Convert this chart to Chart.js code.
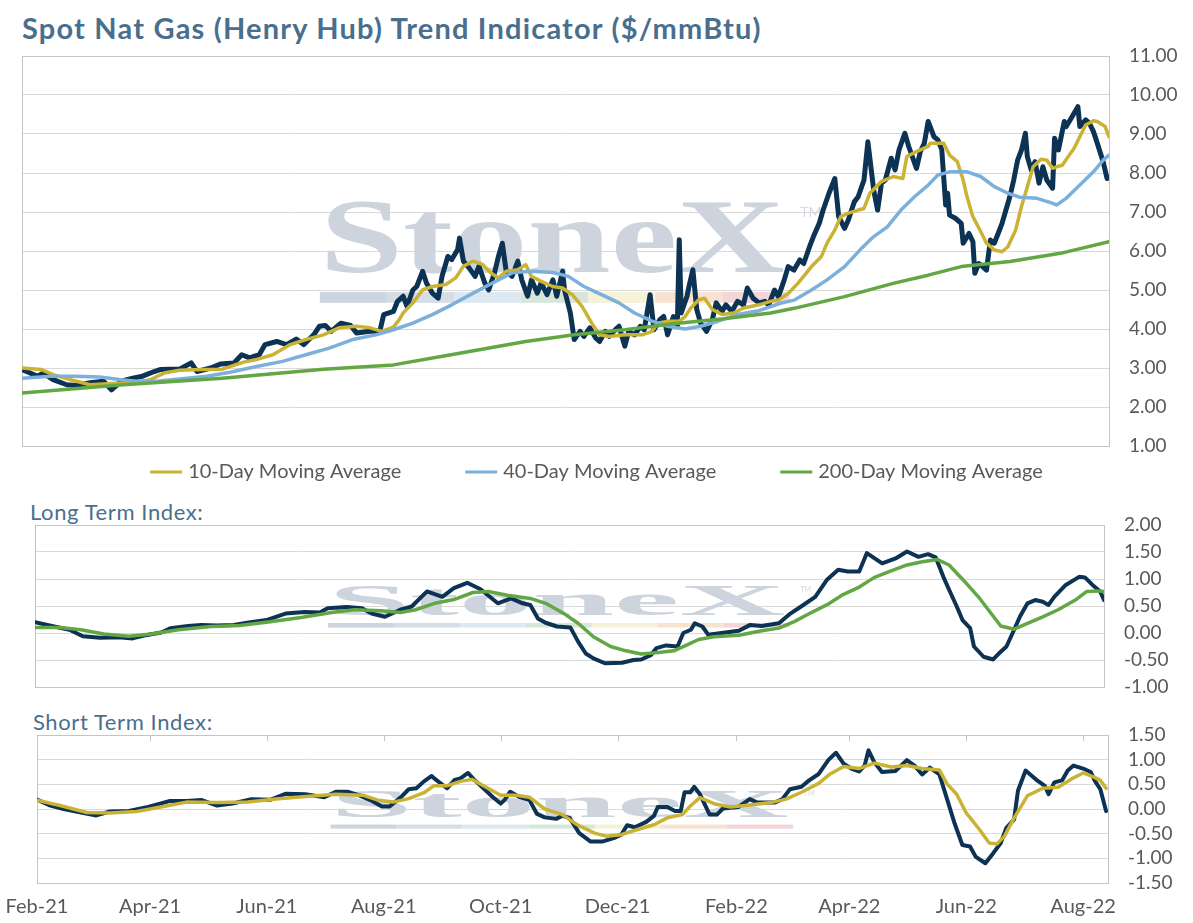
<!DOCTYPE html>
<html>
<head>
<meta charset="utf-8">
<title>Spot Nat Gas (Henry Hub) Trend Indicator</title>
<script src="https://cdn.jsdelivr.net/npm/chart.js@4.4.1/dist/chart.umd.min.js"></script>
<style>
  html, body { margin: 0; padding: 0; background: #fff; }
  body { position: relative; width: 1193px; height: 923px; overflow: hidden; font-family: Lato, "Noto Sans", sans-serif; }
  .title { position: absolute; left: 22px; top: 10px; font-size: 29px; letter-spacing: 1.2px; font-weight: 700; color: #4a6f8e; white-space: nowrap; }
  .panel-label { position: absolute; font-size: 22px; letter-spacing: 0.6px; color: #4a6f8e; white-space: nowrap; }
  canvas { position: absolute; left: 0; }
</style>
</head>
<body>
<div class="title">Spot Nat Gas (Henry Hub) Trend Indicator ($/mmBtu)</div>
<canvas id="main" width="1193" height="450" style="top:44px"></canvas>
<div class="panel-label" style="left:30px; top:498px">Long Term Index:</div>
<canvas id="longTerm" width="1193" height="188" style="top:512px"></canvas>
<div class="panel-label" style="left:33px; top:708px">Short Term Index:</div>
<canvas id="shortTerm" width="1193" height="201" style="top:722px"></canvas>
<script>
// days counted from 1 Feb 2021
const tickDays = [0, 59, 120, 181, 242, 303, 365, 424, 485, 546];
const tickLabels = ["Feb-21", "Apr-21", "Jun-21", "Aug-21", "Oct-21", "Dec-21", "Feb-22", "Apr-22", "Jun-22", "Aug-22"];
const firstDay = 0;
const lastDay = 559;

// Henry Hub spot price
const spotDays = [0,8,11,16,23,28,35,42,46,51,57,62,68,71,76,81,87,90,97,102,109,113,117,122,125,131,136,141,145,150,153,156,159,164,169,172,179,184,186,191,193,196,198,201,203,206,208,211,214,216,219,221,224,225,227,230,233,235,238,240,243,245,247,249,252,255,257,260,262,265,267,270,273,275,278,279,282,284,287,289,292,295,297,300,302,305,307,310,312,315,318,320,323,325,328,330,332,335,337,338,339,342,343,345,347,349,352,355,357,360,362,365,368,371,373,376,379,382,384,387,389,392,394,397,400,402,405,407,410,412,415,418,420,423,425,428,430,433,435,438,440,442,444,447,449,451,454,456,460,462,464,466,469,471,473,475,476,477,480,483,484,487,489,490,492,494,496,498,500,502,504,506,508,510,512,514,516,517,519,521,523,525,527,530,531,533,536,537,540,543,544,547,549,551,553,556,558];
const spotPrice = [2.96,2.79,2.87,2.70,2.57,2.55,2.62,2.66,2.44,2.66,2.74,2.79,2.91,2.96,2.97,2.97,3.13,2.91,3.00,3.10,3.13,3.34,3.26,3.34,3.60,3.68,3.60,3.74,3.60,3.85,4.07,4.09,3.94,4.15,4.09,3.90,3.94,3.94,4.37,4.45,4.70,4.84,4.58,5.00,5.09,5.48,5.18,4.92,4.79,5.35,5.86,5.78,6.03,6.33,5.74,5.56,5.35,5.61,5.18,5.00,5.44,5.86,6.20,5.48,5.35,5.74,5.26,4.84,5.26,4.92,5.18,4.88,5.26,4.84,5.48,5.00,4.41,3.73,3.94,3.81,4.03,3.77,3.68,3.94,3.81,3.98,4.07,3.56,3.94,3.85,4.07,3.98,4.88,3.98,4.24,4.32,3.85,4.32,4.07,6.29,4.41,4.84,5.09,5.52,4.50,4.15,3.94,4.24,4.67,4.45,4.62,4.45,4.71,4.62,5.05,4.79,4.67,4.71,4.62,5.00,4.83,5.26,5.60,5.51,5.77,5.68,6.11,6.37,6.71,7.05,7.48,7.86,6.88,6.58,6.80,7.26,7.39,7.82,8.80,7.56,7.05,7.74,7.82,8.38,8.08,8.59,9.02,8.68,8.12,8.55,8.76,9.32,8.93,8.85,8.60,7.18,7.48,6.92,6.84,6.71,6.20,6.45,6.24,5.43,5.68,5.60,5.51,6.28,6.20,6.45,6.71,7.05,7.39,7.82,8.33,8.59,9.02,8.42,8.08,8.29,7.74,8.16,7.82,7.61,8.89,8.59,9.32,9.19,9.44,9.70,9.19,9.36,9.27,9.06,8.76,8.29,7.86];

// moving averages
const ma10Days = [0,10,16,25,35,46,57,66,73,81,92,103,114,120,129,138,146,155,163,172,179,185,191,194,196,201,206,211,218,223,227,232,237,241,245,249,255,259,262,267,273,278,283,288,293,297,302,310,319,324,327,332,338,341,344,348,351,355,360,366,371,379,385,389,394,399,406,411,414,418,421,425,430,433,436,442,448,453,455,460,466,467,474,477,481,484,486,489,493,496,500,504,507,511,514,517,520,524,527,530,532,535,538,541,544,547,551,553,557,559];
const ma10 = [3.00,2.96,2.83,2.70,2.57,2.60,2.62,2.70,2.87,2.94,2.96,2.97,3.15,3.21,3.34,3.60,3.73,3.85,4.03,4.07,4.03,3.94,4.05,4.24,4.41,4.67,5.00,5.09,5.14,5.31,5.61,5.74,5.65,5.44,5.31,5.48,5.52,5.65,5.35,5.22,5.09,5.05,4.88,4.58,4.15,3.85,3.81,3.85,3.85,3.94,4.15,4.20,4.20,4.32,4.54,4.75,4.79,4.50,4.37,4.41,4.54,4.62,4.71,4.74,4.91,5.17,5.60,5.85,6.20,6.54,6.88,6.97,7.05,7.09,7.48,7.78,7.91,7.86,8.42,8.55,8.68,8.76,8.76,8.46,8.29,7.82,7.39,6.88,6.50,6.20,6.03,5.98,6.11,6.54,7.14,7.65,8.16,8.35,8.33,8.12,8.16,8.20,8.42,8.63,8.93,9.23,9.34,9.32,9.19,8.93];
const ma40Days = [0,15,27,40,51,59,69,81,95,107,120,134,146,158,170,182,191,201,211,221,232,242,252,262,273,281,289,298,307,315,324,332,341,349,358,368,379,390,397,406,414,423,431,438,445,452,459,466,471,477,486,493,500,507,513,522,529,532,537,544,551,556,559];
const ma40 = [2.74,2.79,2.79,2.77,2.70,2.66,2.66,2.72,2.79,2.89,3.03,3.17,3.34,3.51,3.73,3.85,3.98,4.15,4.37,4.62,4.92,5.18,5.44,5.48,5.45,5.35,5.09,4.88,4.67,4.41,4.20,4.07,4.00,4.07,4.20,4.37,4.47,4.66,4.74,5.00,5.26,5.60,6.03,6.37,6.62,7.05,7.39,7.69,7.95,8.03,8.03,7.91,7.65,7.48,7.38,7.35,7.24,7.18,7.35,7.69,8.03,8.33,8.46];
const ma200Days = [0,52,103,155,191,225,259,284,310,336,361,385,397,423,448,466,483,508,534,559];
const ma200 = [2.36,2.57,2.74,2.97,3.08,3.38,3.68,3.85,3.98,4.14,4.26,4.41,4.53,4.83,5.17,5.38,5.60,5.73,5.94,6.24];

// long term index and its signal
const ltDays = [0,10,18,25,34,44,51,58,66,71,80,87,95,104,111,121,131,141,149,153,163,171,176,183,191,197,205,213,219,226,233,242,249,255,259,263,267,273,280,284,288,292,298,307,313,317,322,325,330,336,339,343,345,349,352,359,368,374,380,389,395,401,408,414,420,425,431,435,443,450,456,462,467,471,475,478,482,485,489,491,496,501,504,508,512,515,519,523,527,530,533,539,546,549,553,557,559];
const ltIndex = [0.20,0.12,0.06,-0.06,-0.09,-0.08,-0.10,-0.04,0.01,0.09,0.13,0.15,0.14,0.15,0.19,0.24,0.36,0.39,0.38,0.46,0.48,0.46,0.36,0.30,0.43,0.49,0.77,0.67,0.83,0.93,0.81,0.55,0.64,0.55,0.52,0.27,0.19,0.12,0.10,-0.16,-0.38,-0.47,-0.56,-0.55,-0.50,-0.49,-0.41,-0.28,-0.23,-0.25,0.00,0.06,0.18,0.12,-0.03,0.00,0.04,0.15,0.13,0.18,0.36,0.50,0.67,0.98,1.17,1.14,1.14,1.48,1.29,1.38,1.51,1.41,1.46,1.40,1.04,0.80,0.49,0.24,0.09,-0.25,-0.44,-0.49,-0.38,-0.25,0.06,0.30,0.55,0.61,0.58,0.52,0.67,0.89,1.04,1.03,0.89,0.77,0.61];
const ltSignalDays = [0,13,24,36,49,61,75,92,107,123,140,155,167,181,191,199,209,219,229,237,247,259,267,277,284,292,301,309,317,326,334,341,347,355,368,380,389,397,405,414,422,431,439,447,456,464,472,478,483,487,494,500,505,512,519,527,535,544,550,556,559];
const ltSignal = [0.10,0.10,0.06,-0.02,-0.06,-0.02,0.06,0.12,0.14,0.21,0.29,0.38,0.43,0.41,0.38,0.43,0.55,0.62,0.75,0.77,0.70,0.64,0.55,0.35,0.18,-0.07,-0.25,-0.33,-0.39,-0.36,-0.33,-0.22,-0.12,-0.07,-0.04,0.04,0.09,0.21,0.36,0.52,0.70,0.85,1.03,1.14,1.26,1.32,1.36,1.26,1.07,0.92,0.64,0.36,0.13,0.07,0.18,0.30,0.43,0.61,0.77,0.78,0.77];

// short term index and its signal
const stDays = [0,7,14,23,31,38,48,58,69,78,86,94,102,112,122,130,140,150,156,162,168,174,180,184,190,194,198,202,206,208,214,218,221,225,228,233,238,242,244,247,252,257,261,265,271,274,278,283,289,295,301,305,308,312,318,322,324,329,333,336,338,341,343,346,351,355,358,366,372,376,385,389,393,399,403,408,413,417,421,425,429,432,434,437,441,448,454,458,462,466,471,475,479,483,487,490,495,499,503,506,510,512,516,519,522,526,528,531,535,538,541,546,550,552,555,558];
const stIndex = [0.19,0.07,0.00,-0.07,-0.13,-0.05,-0.04,0.04,0.16,0.16,0.18,0.07,0.11,0.20,0.19,0.31,0.30,0.24,0.35,0.35,0.28,0.18,0.05,0.05,0.24,0.40,0.42,0.56,0.67,0.60,0.42,0.59,0.62,0.73,0.60,0.42,0.24,0.11,0.18,0.35,0.24,0.18,-0.10,-0.17,-0.20,-0.14,-0.18,-0.49,-0.66,-0.66,-0.59,-0.52,-0.33,-0.37,-0.26,-0.14,0.04,0.04,-0.04,-0.04,0.34,0.34,0.45,0.30,-0.11,-0.11,0.01,0.04,0.20,0.13,0.13,0.20,0.40,0.45,0.58,0.71,0.99,1.14,0.92,0.82,0.76,0.88,1.19,0.95,0.75,0.77,0.99,0.88,0.70,0.84,0.70,0.20,-0.30,-0.73,-0.76,-0.97,-1.10,-0.90,-0.69,-0.38,-0.21,0.37,0.78,0.68,0.58,0.47,0.30,0.54,0.58,0.78,0.88,0.82,0.75,0.58,0.40,-0.04];
const stSignalDays = [0,12,26,38,52,66,78,94,110,126,142,156,170,178,186,194,202,207,214,221,227,233,242,250,257,265,274,282,291,297,305,313,322,329,337,341,346,354,362,372,383,391,399,408,414,421,429,437,446,454,462,471,475,480,485,492,497,501,505,510,517,525,533,540,546,552,555,558];
const stSignal = [0.18,0.07,-0.07,-0.08,-0.05,0.05,0.14,0.13,0.14,0.21,0.26,0.30,0.28,0.18,0.14,0.21,0.33,0.47,0.47,0.56,0.60,0.47,0.28,0.28,0.24,0.00,-0.11,-0.32,-0.49,-0.55,-0.52,-0.42,-0.32,-0.18,-0.11,0.06,0.23,0.10,0.04,0.08,0.13,0.20,0.34,0.52,0.71,0.86,0.82,0.93,0.85,0.88,0.82,0.79,0.51,0.30,-0.08,-0.42,-0.69,-0.71,-0.55,-0.18,0.27,0.42,0.44,0.61,0.73,0.64,0.58,0.42];

const NAVY = "#0c3254";
const GOLD = "#c9b234";
const LIGHT_BLUE = "#7cb0da";
const GREEN = "#62a744";
const TEXT = "#595959";

Chart.defaults.font.family = "Lato";
Chart.defaults.color = TEXT;

const pts = (days, vals) => days.map((d, i) => ({ x: d, y: vals[i] }));

// grey box round the plot area
const frame = {
  id: "frame",
  beforeDatasetsDraw(chart) {
    const { ctx, chartArea: a } = chart;
    ctx.save();
    ctx.strokeStyle = "#c4c4c4";
    ctx.lineWidth = 1;
    ctx.strokeRect(Math.round(a.left) + 0.5, Math.round(a.top) + 0.5, Math.round(a.width), Math.round(a.height));
    ctx.restore();
  }
};

// faint StoneX logo behind the lines
const watermark = {
  id: "watermark",
  beforeDatasetsDraw(chart) {
    const { ctx, chartArea: a } = chart;
    const left = a.left + a.width * 0.274;
    const right = a.left + a.width * 0.702;
    const top = a.top + a.height * 0.377;
    const base = a.top + a.height * 0.555;
    ctx.save();
    ctx.font = 'bold 100px "Liberation Serif"';
    const m = ctx.measureText("StoneX");
    ctx.translate(left, base);
    ctx.scale((right - left) / m.width, (base - top) / m.actualBoundingBoxAscent);
    ctx.fillStyle = "#cdd4dd";
    ctx.textBaseline = "alphabetic";
    ctx.fillText("StoneX", 0, 0);
    ctx.restore();

    ctx.save();
    ctx.fillStyle = "#d3d9e0";
    ctx.font = Math.max(7, Math.round(a.height * 0.035)) + "px Lato";
    ctx.textBaseline = "middle";
    ctx.fillText("TM", a.left + a.width * 0.716, a.top + a.height * 0.40);
    const barColors = ["#cdd5de", "#d6dde5", "#dde8f2", "#d7e6d8", "#f5f2d8", "#f7e3d0", "#f2d6d8"];
    const y0 = a.top + a.height * 0.605;
    const h = a.height * 0.028;
    const seg = (a.width * 0.706 - a.width * 0.274) / barColors.length;
    barColors.forEach((c, i) => {
      ctx.fillStyle = c;
      ctx.fillRect(left + seg * i, y0, seg, h);
    });
    ctx.restore();
  }
};

// legend with line samples under the main chart
const lineLegend = {
  id: "lineLegend",
  afterDraw(chart) {
    const { ctx, chartArea: a } = chart;
    const items = chart.data.datasets.filter((d, i) => i > 0);
    ctx.save();
    ctx.font = "20px Lato";
    const sample = 32, gap = 6, spacing = 64;
    const widths = items.map(d => sample + gap + ctx.measureText(d.label).width);
    const total = widths.reduce((s, w) => s + w, 0) + spacing * (items.length - 1);
    let x = chart.width / 2 - total / 2;
    const y = a.bottom + 26;
    items.forEach((d, i) => {
      ctx.strokeStyle = d.borderColor;
      ctx.lineWidth = 3;
      ctx.beginPath();
      ctx.moveTo(x, y);
      ctx.lineTo(x + sample, y);
      ctx.stroke();
      ctx.fillStyle = TEXT;
      ctx.textBaseline = "middle";
      ctx.fillText(d.label, x + sample + gap, y);
      x += widths[i] + spacing;
    });
    ctx.restore();
  }
};

// short tick marks hanging from the top edge of the bottom panel
const topTicks = {
  id: "topTicks",
  beforeDatasetsDraw(chart) {
    const { ctx, chartArea: a } = chart;
    const xs = chart.scales.x;
    ctx.save();
    ctx.strokeStyle = "#c4c4c4";
    ctx.lineWidth = 1;
    tickDays.forEach(d => {
      const px = Math.round(xs.getPixelForValue(d)) + 0.5;
      if (px <= a.left + 2 || px >= a.right - 2) return;
      ctx.beginPath();
      ctx.moveTo(px, a.top);
      ctx.lineTo(px, a.top + 6);
      ctx.stroke();
    });
    ctx.restore();
  }
};

// label overflow is left to the layout padding, so the plot box sits exactly
function rightAxis(min, max, step, width) {
  return {
    position: "right",
    min, max,
    ticks: { stepSize: step, autoSkip: false, maxTicksLimit: 20, padding: 20, color: TEXT, font: { size: 19 }, callback: v => v.toFixed(2) },
    grid: { color: "#d9d9d9", drawTicks: false },
    border: { display: false },
    afterFit: s => { s.width = width; s.paddingTop = 0; s.paddingBottom = 0; }
  };
}

function line(label, days, vals, color, width, order) {
  return { label, data: pts(days, vals), borderColor: color, backgroundColor: color, borderWidth: width, order, fill: false };
}

function baseOptions(padding, scales) {
  return {
    responsive: false,
    animation: false,
    events: [],
    layout: { padding },
    elements: {
      point: { radius: 0 },
      line: { tension: 0, borderJoinStyle: "round", borderCapStyle: "round" }
    },
    plugins: { legend: { display: false }, tooltip: { enabled: false } },
    scales
  };
}

new Chart(document.getElementById("main"), {
  type: "line",
  data: {
    datasets: [
      line("Henry Hub Spot", spotDays, spotPrice, NAVY, 5, 4),
      line("10-Day Moving Average", ma10Days, ma10, GOLD, 3.5, 3),
      line("40-Day Moving Average", ma40Days, ma40, LIGHT_BLUE, 3.5, 2),
      line("200-Day Moving Average", ma200Days, ma200, GREEN, 3.5, 1)
    ]
  },
  options: baseOptions({ left: 22, top: 12, right: 0, bottom: 48 }, {
    x: { type: "linear", min: firstDay, max: lastDay, display: false },
    y: rightAxis(1, 11, 1, 84)
  }),
  plugins: [frame, watermark, lineLegend]
});

new Chart(document.getElementById("longTerm"), {
  type: "line",
  data: {
    datasets: [
      line("Long Term Index", ltDays, ltIndex, NAVY, 4, 2),
      line("Long Term Signal", ltSignalDays, ltSignal, GREEN, 3.5, 1)
    ]
  },
  options: baseOptions({ left: 35, top: 13, right: 0, bottom: 13 }, {
    x: { type: "linear", min: firstDay, max: lastDay, display: false },
    y: rightAxis(-1, 2, 0.5, 89)
  }),
  plugins: [frame, watermark]
});

new Chart(document.getElementById("shortTerm"), {
  type: "line",
  data: {
    datasets: [
      line("Short Term Index", stDays, stIndex, NAVY, 4, 2),
      line("Short Term Signal", stSignalDays, stSignal, GOLD, 3.5, 1)
    ]
  },
  options: baseOptions({ left: 37, top: 13, right: 0, bottom: 4 }, {
    x: {
      type: "linear",
      min: firstDay,
      max: lastDay,
      afterBuildTicks: axis => { axis.ticks = tickDays.map(v => ({ value: v })); },
      ticks: { autoSkip: false, maxRotation: 0, padding: 12, color: TEXT, font: { size: 20 }, callback: v => tickLabels[tickDays.indexOf(v)] },
      grid: { display: false, drawTicks: false },
      border: { display: false },
      afterFit: s => { s.height = 36; s.paddingLeft = 0; s.paddingRight = 0; }
    },
    y: rightAxis(-1.5, 1.5, 0.5, 85)
  }),
  plugins: [frame, watermark, topTicks]
});
</script>
</body>
</html>
